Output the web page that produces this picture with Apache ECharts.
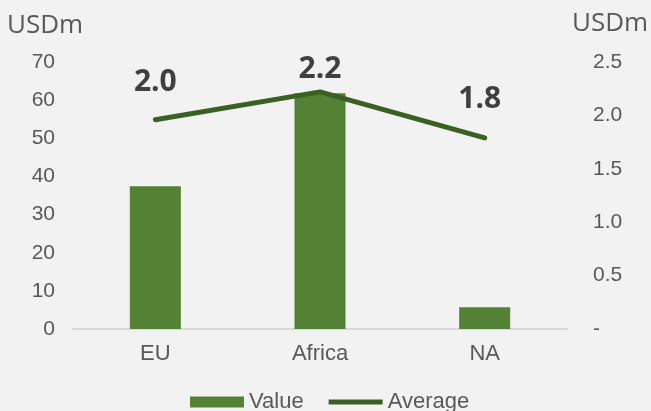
<!DOCTYPE html>
<html>
<head>
<meta charset="utf-8">
<script src="https://cdn.jsdelivr.net/npm/echarts@6/dist/echarts.min.js"></script>
<style>
  html, body { margin: 0; padding: 0; background: #f2f2f2; }
  #chart { width: 651px; height: 411px; }
</style>
</head>
<body>
<div id="chart"></div>
<script>
// chart data
const categories = ["EU", "Africa", "NA"];
const valueData = [37.4, 61.8, 5.7];
const averageData = [1.96, 2.22, 1.79];

// label offsets above the line points (Africa sits closer to the top)
const labelDistance = [22, 7, 23];

const chart = echarts.init(document.getElementById("chart"));

const option = {
  backgroundColor: "#f2f2f2",
  animation: false,
  grid: { left: 73, right: 84, top: 62, bottom: 82 },
  legend: {
    left: 185,
    top: 386,
    itemWidth: 54,
    itemHeight: 11,
    itemGap: 25,
    textStyle: { fontFamily: "Liberation Sans", fontSize: 22, color: "#595959" },
    data: [
      { name: "Value", icon: "rect" },
      { name: "Average", icon: "path://M0,0 L54,0 L54,5 L0,5 Z" }
    ]
  },
  graphic: [
    {
      type: "text", left: 7, top: 13,
      style: { text: "USDm", font: "26px 'Open Sans'", fill: "#595959" }
    },
    {
      type: "text", left: 572, top: 11,
      style: { text: "USDm", font: "26px 'Open Sans'", fill: "#595959" }
    }
  ],
  xAxis: {
    type: "category",
    data: categories,
    axisLine: { lineStyle: { color: "#d9d9d9", width: 2 } },
    axisTick: { show: false },
    axisLabel: { fontFamily: "Liberation Sans", fontSize: 22, color: "#595959", margin: 14 }
  },
  yAxis: [
    {
      type: "value",
      min: 0, max: 70, interval: 10,
      splitLine: { show: false },
      axisLine: { show: false },
      axisTick: { show: false },
      axisLabel: { fontFamily: "Liberation Sans", fontSize: 21, color: "#595959", margin: 18 }
    },
    {
      type: "value",
      min: 0, max: 2.5, interval: 0.5,
      splitLine: { show: false },
      axisLine: { show: false },
      axisTick: { show: false },
      axisLabel: {
        fontFamily: "Liberation Sans", fontSize: 21, color: "#595959", margin: 26,
        formatter: v => (v === 0 ? "-" : v.toFixed(1))
      }
    }
  ],
  series: [
    {
      name: "Value",
      type: "bar",
      yAxisIndex: 0,
      barWidth: "31%",
      itemStyle: { color: "#548235" },
      data: valueData
    },
    {
      name: "Average",
      type: "line",
      yAxisIndex: 1,
      symbol: "circle",
      symbolSize: 0,
      showSymbol: true,
      lineStyle: { color: "#3b6023", width: 5, cap: "round" },
      itemStyle: { color: "#3b6023" },
      label: {
        show: true,
        position: "top",
        fontFamily: "Open Sans",
        fontWeight: "bold",
        fontSize: 30,
        color: "#404040",
        formatter: p => p.value.toFixed(1)
      },
      data: averageData.map((v, i) => ({
        value: v,
        label: { distance: labelDistance[i], offset: i === 2 ? [-5, 0] : [0, 0] }
      }))
    }
  ]
};

chart.setOption(option);
</script>
</body>
</html>
